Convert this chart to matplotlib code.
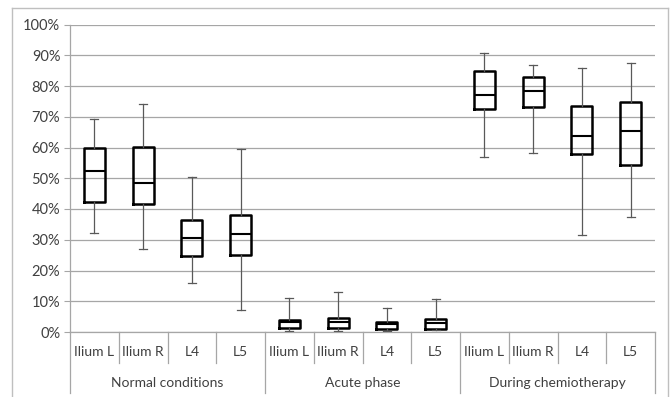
import matplotlib.pyplot as plt
from matplotlib.lines import Line2D
from matplotlib.ticker import PercentFormatter

plt.rcParams['font.family'] = ['Lato', 'DejaVu Sans']

groups = ['Normal conditions', 'Acute phase', 'During chemiotherapy']
sites = ['Ilium L', 'Ilium R', 'L4', 'L5']

# percent values per box, order: normal x4, acute x4, chemo x4
whis_low = [32.2, 27.1, 15.9, 7.2, 0.2, 0.2, 0.4, 0.6, 56.8, 58.3, 31.7, 37.4]
q1 = [42.4, 41.5, 24.7, 25.0, 1.4, 1.4, 1.1, 1.0, 72.6, 73.2, 58.0, 54.3]
median = [52.5, 48.6, 30.7, 31.9, 3.1, 3.2, 2.6, 2.8, 77.2, 78.5, 63.8, 65.3]
q3 = [59.9, 60.3, 36.4, 38.2, 4.0, 4.7, 3.3, 4.3, 85.0, 82.8, 73.6, 74.8]
whis_high = [69.2, 74.0, 50.5, 59.4, 11.0, 12.9, 7.7, 10.8, 90.8, 86.7, 86.0, 87.4]

text_col = '#404040'
grid_col = '#a6a6a6'

fig = plt.figure(figsize=(6.71, 3.97), dpi=100)
ax = fig.add_axes([70 / 671, 1 - 332 / 397, 585 / 671, 307.5 / 397])

stats = []
for i in range(len(median)):
    stats.append(dict(whislo=whis_low[i], q1=q1[i], med=median[i],
                      q3=q3[i], whishi=whis_high[i], fliers=[]))

positions = list(range(len(stats)))
ax.bxp(stats, positions=positions, widths=0.43, capwidths=0.16,
       showfliers=False, zorder=3,
       boxprops=dict(color='black', linewidth=1.8),
       medianprops=dict(color='black', linewidth=1.5),
       whiskerprops=dict(color='#595959', linewidth=0.9),
       capprops=dict(color='#595959', linewidth=0.9))

ax.set_xlim(-0.5, len(stats) - 0.5)
ax.set_ylim(0, 100)
ax.set_yticks(range(0, 101, 10))
ax.yaxis.set_major_formatter(PercentFormatter(decimals=0))
ax.grid(axis='y', color=grid_col, linewidth=0.9)
ax.set_axisbelow(True)
for s in ['top', 'right']:
    ax.spines[s].set_visible(False)
for s in ['left', 'bottom']:
    ax.spines[s].set_color(grid_col)
    ax.spines[s].set_linewidth(0.9)
ax.tick_params(axis='y', length=4, color=grid_col, labelsize=10.5,
               labelcolor=text_col, pad=3)
ax.set_xticks([])

# two-level category axis, drawn below the plot area
trans = ax.get_xaxis_transform()
sub_depth = -31 / 307.5
grp_depth = -61 / 307.5
for k in range(len(stats) + 1):
    x = k - 0.5
    depth = grp_depth if k % len(sites) == 0 else sub_depth
    ax.add_line(Line2D([x, x], [0, depth], transform=trans, color=grid_col,
                       linewidth=0.9, clip_on=False))
for i in positions:
    ax.text(i, -20 / 307.5, sites[i % len(sites)], transform=trans,
            ha='center', va='center', fontsize=10, color=text_col)
for g, name in enumerate(groups):
    xc = g * len(sites) + (len(sites) - 1) / 2
    ax.text(xc, -51 / 307.5, name, transform=trans, ha='center',
            va='center', fontsize=10, color=text_col)

# chart frame
frame = dict(color='#bfbfbf', linewidth=1.0, transform=fig.transFigure)
fig.add_artist(Line2D([12 / 671, 12 / 671], [0, 1 - 8 / 397], **frame))
fig.add_artist(Line2D([12 / 671, 668 / 671], [1 - 8 / 397, 1 - 8 / 397], **frame))
fig.add_artist(Line2D([668 / 671, 668 / 671], [0, 1 - 8 / 397], **frame))

fig.savefig('out.png', dpi=100)
